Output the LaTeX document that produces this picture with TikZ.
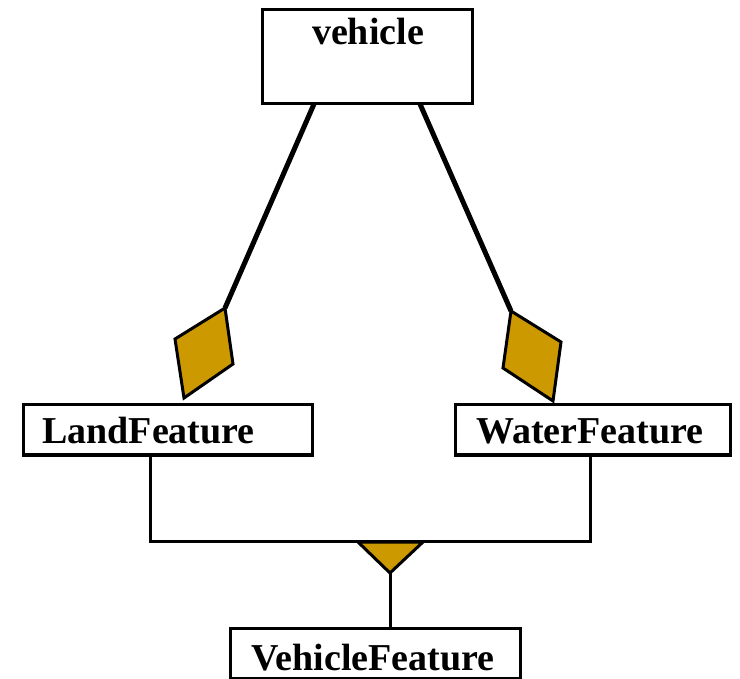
\documentclass[tikz,border=0pt]{standalone}
\usepackage{fontspec}
\setmainfont{Liberation Serif}
\definecolor{aggfill}{HTML}{CC9900}
\begin{document}
\begin{tikzpicture}[x=1pt,y=-1pt,
  box/.style={draw,line width=3pt,inner sep=0pt,rectangle},
  lbl/.style={font=\fontsize{38}{42}\selectfont\bfseries,inner sep=0pt,anchor=base},
  assoc/.style={line width=5pt},
  tree/.style={line width=3pt},
  agg/.style={draw,fill=aggfill,line width=3pt,line join=miter}]
\useasboundingbox (0,0) rectangle (740,679);

% class boxes
\node[box,minimum width=210pt,minimum height=94pt] (vehicle) at (367,57) {};
\node[box,minimum width=289pt,minimum height=50pt] (land) at (167.5,430) {};
\node[box,minimum width=275pt,minimum height=50pt] (water) at (592.5,430) {};
\node[box,minimum width=290pt,minimum height=50pt] (vfeat) at (375,653) {};

% class names
\node[lbl] (vehicleTxt) at (368,45) {vehicle};
\node[lbl] (landTxt) at (148.5,443) {LandFeature};
\node[lbl] (waterTxt) at (590,443) {WaterFeature};
\node[lbl] (vfeatTxt) at (373,670) {VehicleFeature};

% aggregation diamonds
\coordinate (ldTop) at (225,308);
\coordinate (ldRight) at (233,364);
\coordinate (ldBot) at (184,398);
\coordinate (ldLeft) at (175,339);
\coordinate (rdTop) at (511,311);
\coordinate (rdRight) at (561,342);
\coordinate (rdBot) at (553,401);
\coordinate (rdLeft) at (503,368);
\path[agg] (ldTop) -- (ldRight) -- (ldBot) -- (ldLeft) -- cycle;
\path[agg] (rdTop) -- (rdRight) -- (rdBot) -- (rdLeft) -- cycle;

% associations from vehicle
\coordinate (vL) at (314,104);
\coordinate (vR) at (420,104);
\draw[assoc] (vL) -- (ldTop);
\draw[assoc] (vR) -- (rdTop);

% generalisation tree
\coordinate (landPort) at (150,455);
\coordinate (waterPort) at (590,455);
\coordinate (forkL) at (150,541);
\coordinate (forkR) at (590,541);
\draw[tree] (landPort) -- (forkL) -- (forkR) -- (waterPort);
\coordinate (triL) at (358,542);
\coordinate (triR) at (423,542);
\coordinate (triTip) at (390,573);
\path[agg] (triL) -- (triR) -- (triTip) -- cycle;
\coordinate (vfPort) at (390,628);
\draw[tree] (triTip) -- (vfPort);
\end{tikzpicture}
\end{document}
